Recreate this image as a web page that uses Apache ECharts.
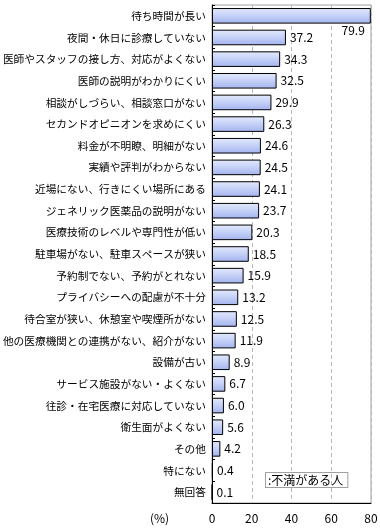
<!DOCTYPE html>
<html><head><meta charset="utf-8">
<script src="https://cdn.jsdelivr.net/npm/echarts@6/dist/echarts.min.js"></script>
<style>html,body{margin:0;padding:0;background:#fff}#c{width:380px;height:532px}</style>
</head><body><div id="c"></div>
<script>
const categories = ['待ち時間が長い','夜間・休日に診療していない','医師やスタッフの接し方、対応がよくない','医師の説明がわかりにくい','相談がしづらい、相談窓口がない','セカンドオピニオンを求めにくい','料金が不明瞭、明細がない','実績や評判がわからない','近場にない、行きにくい場所にある','ジェネリック医薬品の説明がない','医療技術のレベルや専門性が低い','駐車場がない、駐車スペースが狭い','予約制でない、予約がとれない','プライバシーへの配慮が不十分','待合室が狭い、休憩室や喫煙所がない','他の医療機関との連携がない、紹介がない','設備が古い','サービス施設がない・よくない','往診・在宅医療に対応していない','衛生面がよくない','その他','特にない','無回答'];
const values = [79.9,37.2,34.3,32.5,29.9,26.3,24.6,24.5,24.1,23.7,20.3,18.5,15.9,13.2,12.5,11.9,8.9,6.7,6.0,5.6,4.2,0.4,0.1];
const seriesName = '不満がある人';
const xTicks = [0,20,40,60,80];

const font = '"Noto Sans CJK JP", sans-serif';
const chart = echarts.init(document.getElementById('c'), null, {renderer:'canvas'});
const data = values.map((v,i) => i === 0 ? {value:v, label:{position:'insideBottomRight', offset:[-2,17]}} : v);
chart.setOption({
  animation:false,
  grid:{left:212,right:9,top:5,bottom:29,show:true,borderColor:'#a0a0a0',borderWidth:1,outerBoundsMode:'none',containLabel:false},
  xAxis:{type:'value',min:xTicks[0],max:xTicks[xTicks.length-1],interval:20,
    axisLine:{show:true,lineStyle:{color:'#000'}},axisTick:{show:false},
    axisLabel:{color:'#000',fontSize:12,fontFamily:font,margin:9},
    splitLine:{show:true,lineStyle:{color:'#b8b8b8',type:[4,3]}}},
  yAxis:{type:'category',data:categories,inverse:true,
    axisLine:{show:true,lineStyle:{color:'#000'}},
    axisTick:{show:true,inside:true,length:3,lineStyle:{color:'#000'}},
    axisLabel:{color:'#000',fontSize:10.7,fontFamily:font,margin:6}},
  series:[{type:'bar',name:seriesName,data:data,barWidth:'72%',
    itemStyle:{borderColor:'#000',borderWidth:1,
      color:new echarts.graphic.LinearGradient(0,0,0,1,[{offset:0,color:'#e4eafc'},{offset:0.5,color:'#c4d0f7'},{offset:1,color:'#a3b3ee'}])},
    label:{show:true,position:'right',distance:4,color:'#000',fontSize:12,fontFamily:font,
      formatter:p=>Number(p.value).toFixed(1)}}],
  graphic:[
    {type:'text',left:150,top:512,style:{text:'(%)',fill:'#000',font:'12px '+font}},
    {type:'text',left:265,top:472,style:{text:':'+seriesName,fill:'#000',font:'12px '+font,
      backgroundColor:'#fff',borderColor:'#a0a0a0',borderWidth:1,padding:[1,4,1,2]}}
  ]
});
</script></body></html>
